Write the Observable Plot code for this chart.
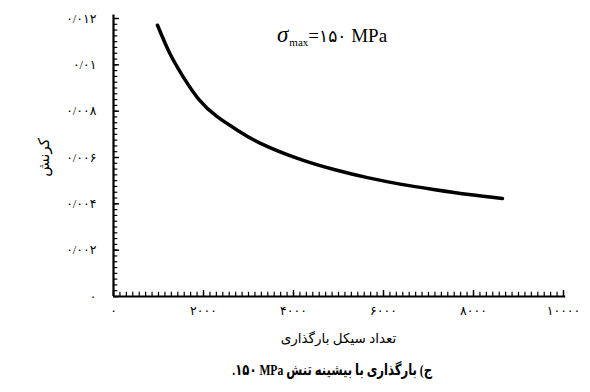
<!DOCTYPE html>
<html>
<head>
<meta charset="utf-8">
<script src="https://cdn.jsdelivr.net/npm/d3@7"></script>
<script src="https://cdn.jsdelivr.net/npm/@observablehq/plot@0.6"></script>
<style>
  html, body { margin: 0; padding: 0; background: #fff; }
  #wrap { position: relative; width: 590px; height: 392px; font-family: "Liberation Serif", "DejaVu Sans", serif; }
  #anno { position: absolute; left: 277px; top: 22px; font-family: "Liberation Serif", "DejaVu Sans", serif; font-size: 19px; color: #000; direction: ltr; white-space: nowrap; }
  #anno .sig { font-style: italic; font-size: 23px; }
  #anno sub { font-size: 11px; vertical-align: -4px; margin-left: 1px; }
  #anno .num { font-size: 17px; }
  #caption { position: absolute; left: 0; top: 361px; width: 590px; text-align: center; color: #000; }
  #caption span { display: inline-block; direction: rtl; font-family: "Liberation Serif", "DejaVu Sans", serif; font-weight: bold; font-size: 15.5px; transform: translateX(37px) scaleX(0.75); transform-origin: center; white-space: nowrap; }
</style>
</head>
<body>
<div id="wrap">
  <div id="chart"></div>
  <div id="anno"><span class="sig">σ</span><sub>max</sub>=<span class="num">۱۵۰</span> MPa</div>
  <div id="caption"><span id="captext"></span></div>
</div>
<script>
// Data
const cycles = [978, 1250, 1556, 1900, 2311, 2800, 3267, 4089, 4900, 5644, 6400, 7111, 7900, 8644];
const strain = [0.01171, 0.01050, 0.00946, 0.0085, 0.00775, 0.00712, 0.00661, 0.00596, 0.00548, 0.00513, 0.00484, 0.00462, 0.0044, 0.00423];

const xTicks = [0, 2000, 4000, 6000, 8000, 10000];
const xTickLabels = ["۰", "۲۰۰۰", "۴۰۰۰", "۶۰۰۰", "۸۰۰۰", "۱۰۰۰۰"];
const yTicks = [0, 0.002, 0.004, 0.006, 0.008, 0.01, 0.012];
const yTickLabels = ["۰", "۰/۰۰۲", "۰/۰۰۴", "۰/۰۰۶", "۰/۰۰۸", "۰/۰۱", "۰/۰۱۲"];
const xMinorStep = 2000 / 14;
const yMinorStep = 0.00025;

const xLabel = "تعداد سیکل بارگذاری";
const yLabel = "کرنش";
const captionText = "ج) بارگذاری با بیشینه تنش MPa \u200F۱۵۰.";

const data = cycles.map((c, i) => ({cycles: c, strain: strain[i]}));
const xMinor = d3.range(0, 10000 + 1e-6, xMinorStep);
const yMinor = d3.range(0, 0.012 + 1e-9, yMinorStep);
const xFmt = d => xTickLabels[xTicks.indexOf(d)];
const yFmt = d => yTickLabels[yTicks.findIndex(t => Math.abs(t - d) < 1e-9)];

// inward tick lengths (in data units of the other axis)
const xTickLen = 0.00018, xTickLenMajor = 0.00026;
const yTickLen = 95, yTickLenMajor = 135;

const chart = Plot.plot({
  width: 590,
  height: 356,
  marginLeft: 113,
  marginRight: 27,
  marginTop: 18,
  marginBottom: 60,
  style: {fontFamily: "'Liberation Serif', 'DejaVu Sans', serif", background: "#fff", color: "#000"},
  x: {domain: [0, 10000], axis: null},
  y: {domain: [0, 0.012], axis: null},
  marks: [
    Plot.ruleX(xMinor, {x: d => d, y1: 0, y2: xTickLen, stroke: "#000", strokeWidth: 1.2}),
    Plot.ruleX(xTicks, {x: d => d, y1: 0, y2: xTickLenMajor, stroke: "#000", strokeWidth: 1.4}),
    Plot.ruleY(yMinor, {y: d => d, x1: 0, x2: yTickLen, stroke: "#000", strokeWidth: 1.2}),
    Plot.ruleY(yTicks, {y: d => d, x1: 0, x2: yTickLenMajor, stroke: "#000", strokeWidth: 1.4}),
    Plot.axisX(xTicks, {tickSize: 0, tickPadding: 10, tickFormat: xFmt, fontSize: 12.5, label: xLabel, labelAnchor: "center", labelOffset: 46, labelArrow: "none"}),
    Plot.axisY(yTicks, {tickSize: 0, tickPadding: 17, tickFormat: yFmt, fontSize: 12.5, label: yLabel, labelAnchor: "center", labelOffset: 75, labelArrow: "none"}),
    Plot.ruleY([0], {strokeWidth: 2.2, x1: 0, x2: 10050}),
    Plot.ruleX([0], {strokeWidth: 2.2, y1: 0, y2: 0.01215}),
    Plot.line(data, {x: "cycles", y: "strain", curve: "natural", stroke: "#000", strokeWidth: 3.5})
  ]
});
chart.querySelectorAll("text").forEach(t => {
  const s = t.textContent.trim();
  if (s === xLabel) t.setAttribute("font-size", 13.5);
  if (s === yLabel) t.setAttribute("font-size", 15);
});
document.getElementById("chart").appendChild(chart);
document.getElementById("captext").textContent = captionText;
</script>
</body>
</html>
